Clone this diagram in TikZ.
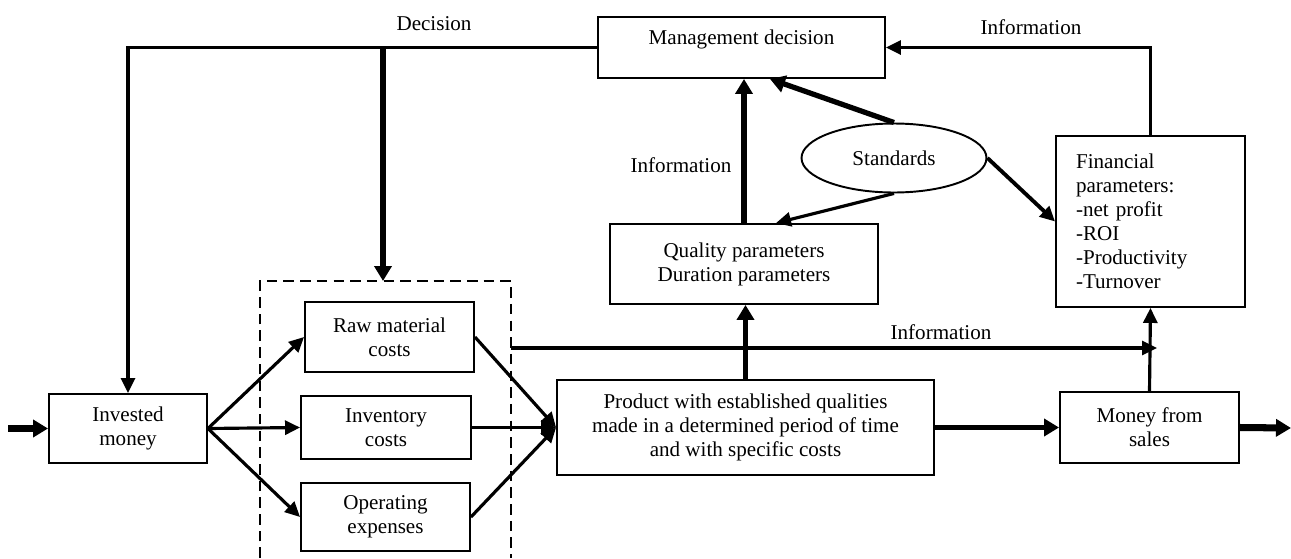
\documentclass[tikz,border=0pt]{standalone}
\usepackage{fontspec}
\setmainfont{Liberation Serif}
\usepackage{tikz}
\usetikzlibrary{arrows.meta,shapes.geometric}

\begin{document}
\begin{tikzpicture}[x=0.02cm, y=-0.02cm,
        font=\fontsize{12}{13.6}\selectfont,
        box/.style={draw, line width=1.1pt, rectangle, align=center, inner sep=0pt},
        flow/.style={line width=1.8pt, -{Triangle[length=0.3cm, width=0.28cm]}},
        boldflow/.style={line width=3pt, -{Triangle[length=0.3cm, width=0.34cm]}},
        heavyflow/.style={line width=4pt, -{Triangle[length=0.3cm, width=0.34cm]}},
        lbl/.style={inner sep=0pt}]
        \useasboundingbox (0,0) rectangle (1291,558);

        \node[box, text height=0.54cm, text depth=0.68cm, minimum width=5.74cm] (mgmt) at (741.5,47.5) {Management decision};
        \node[box, minimum width=5.36cm, minimum height=1.6cm] (quality) at (744,264) {Quality parameters\\Duration parameters};
        \node[draw, ellipse, line width=1.1pt, minimum width=3.7cm, minimum height=1.38cm, inner sep=0pt] (standards) at (894,158) {Standards};
        \node[box, align=left, text width=2.98cm, inner xsep=0.4cm, minimum height=3.42cm] (financial) at (1150.5,221.5) {Financial\\parameters:\\-net profit\\-ROI\\-Productivity\\-Turnover};
        \node[box, minimum width=7.54cm, minimum height=1.9cm] (product) at (745.5,427.5) {Product with established qualities\\made in a determined period of time\\and with specific costs};
        \node[box, minimum width=3.58cm, minimum height=1.42cm] (money) at (1149.5,427.5) {Money from\\sales};
        \node[box, minimum width=3.16cm, minimum height=1.38cm] (invested) at (128,428.5) {Invested\\money};
        \node[box, minimum width=3.38cm, minimum height=1.4cm] (rawmat) at (389.5,337) {Raw material\\costs};
        \node[box, minimum width=3.4cm, minimum height=1.26cm] (inventory) at (386,427.5) {Inventory\\costs};
        \node[box, minimum width=3.38cm, minimum height=1.36cm] (operating) at (385.5,517) {Operating\\expenses};

        % cost group, cut off by the lower edge
        \draw[line width=1.5pt, dash pattern=on 6pt off 3.5pt] (260,558) -- (260,281) -- (511,281) -- (511,558);
        \coordinate (grouptop) at (383,281);
        \coordinate (groupright) at (511,348);
        \coordinate (decsplit) at (383,47.5);
        \coordinate (infoend) at (1157,348);
        \coordinate (inflow) at (8,428.5);
        \coordinate (outflow) at (1291,428);

        \draw[heavyflow] (inflow) -- (invested.west);
        \draw[flow] (invested.east) -- (rawmat.west);
        \draw[flow] (invested.east) -- (inventory.west);
        \draw[flow] (invested.east) -- (operating.west);
        \draw[flow] (rawmat.east) -- (product.west);
        \draw[flow] (inventory.east) -- (product.west);
        \draw[flow] (operating.east) -- (product.west);

        \draw[flow] (mgmt.west) -| (invested.north);
        \draw[boldflow] (decsplit) -- (grouptop);
        \node[lbl] (declbl) at (434,24) {Decision};

        \draw[flow] (groupright) -- (infoend);
        \node[lbl] (infolow) at (941,332) {Information};

        \draw[boldflow] (product.north) -- (product.north |- quality.south);
        \draw[boldflow] (product.east) -- (money.west);
        \draw[heavyflow] (money.east) -- (outflow);
        \draw[flow] (money.north) -- (financial.south);

        \draw[boldflow] (quality.north) -- (quality.north |- mgmt.south);
        \node[lbl] (infomid) at (681,165) {Information};
        \draw[boldflow] (standards.north) -- ([xshift=0.57cm]mgmt.south);
        \draw[flow] (standards.south) -- ([xshift=0.64cm]quality.north);
        \draw[flow, line width=2.2pt] (standards.east) -- (financial.west);

        \draw[flow] (financial.north) |- (mgmt.east);
        \node[lbl] (infotop) at (1031,27) {Information};
    \end{tikzpicture}
\end{document}
